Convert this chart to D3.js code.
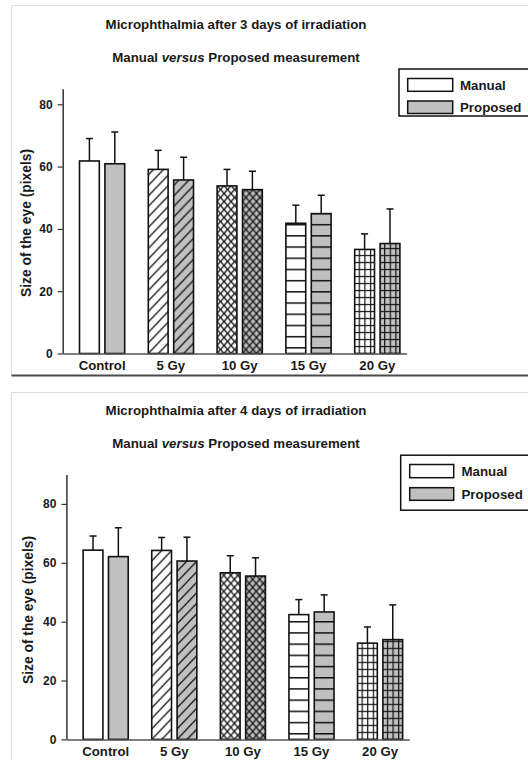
<!DOCTYPE html>
<html>
<head>
<meta charset="utf-8">
<script src="https://cdn.jsdelivr.net/npm/d3@7"></script>
<style>
  html, body { margin: 0; padding: 0; background: #fff; }
  svg { display: block; }
  text { font-family: "Liberation Sans", Arial, sans-serif; font-weight: bold; fill: #1a1a1a; }
</style>
</head>
<body>
<svg id="chart" width="528" height="760"></svg>
<script>
// ---- data ----
const categories = ["Control", "5 Gy", "10 Gy", "15 Gy", "20 Gy"];
const seriesNames = ["Manual", "Proposed"];
const yTicks = [0, 20, 40, 60, 80];
const yAxisLabel = "Size of the eye (pixels)";

// 3 days after irradiation: means and upper error (SD)
const day3Manual     = [61.8, 59.1, 53.8, 41.8, 33.4];
const day3ManualSD   = [7.2, 6.1, 5.3, 5.8, 5.0];
const day3Proposed   = [60.9, 55.7, 52.6, 44.9, 35.3];
const day3ProposedSD = [10.2, 7.3, 5.9, 5.9, 11.1];

// 4 days after irradiation
const day4Manual     = [64.3, 64.2, 56.6, 42.4, 32.7];
const day4ManualSD   = [4.8, 4.4, 5.8, 5.1, 5.5];
const day4Proposed   = [62.1, 60.6, 55.5, 43.3, 33.9];
const day4ProposedSD = [9.8, 8.1, 6.2, 5.8, 11.8];

// fill hatch used for each dose group
const hatchByCategory = ["none", "diagonal", "crosshatch", "horizontal", "grid"];
const seriesFill = { Manual: "#ffffff", Proposed: "#c0c0c0" };

// ---- layout of the two panels ----
const panels = [
  {
    key: "d3", title: "Microphthalmia after 3 days of irradiation",
    manual: day3Manual, manualSD: day3ManualSD, proposed: day3Proposed, proposedSD: day3ProposedSD,
    frameTop: 5.5, frameBottom: 375.5, darkBottom: true,
    axisX0: 62.7, axisX1: 406.7, yBase: 353.5, yTop: 88.7, yMax: 85,
    titleY: [28.8, 62], yLabelPos: [26.3, 223],
    legend: { x: 399, y: 69, h: 47, swX: 407.7, swW: 45, rows: [[78.5, 12.8], [101, 12.5]], textX: 460 }
  },
  {
    key: "d4", title: "Microphthalmia after 4 days of irradiation",
    manual: day4Manual, manualSD: day4ManualSD, proposed: day4Proposed, proposedSD: day4ProposedSD,
    frameTop: 392.5, frameBottom: 762, darkBottom: false,
    axisX0: 66.4, axisX1: 409.4, yBase: 739.4, yTop: 474.5, yMax: 90,
    titleY: [414.7, 448], yLabelPos: [28.6, 610],
    legend: { x: 400.7, y: 455.2, h: 55, swX: 409.7, swW: 44, rows: [[464.5, 13.2], [487.7, 12.6]], textX: 461.5 }
  }
];

const svg = d3.select("#chart");
const defs = svg.append("defs");
const ink = "#111";

// hatch pattern anchored to a bar's left edge and the baseline
function makePattern(id, kind, bg, ox, oy) {
  const specs = {
    diagonal:   { w: 10, h: 10.5 },
    crosshatch: { w: 7, h: 8 },
    horizontal: { w: 10, h: 11.2 },
    grid:       { w: 5.6, h: 7 }
  };
  const s = specs[kind];
  const p = defs.append("pattern")
    .attr("id", id)
    .attr("patternUnits", "userSpaceOnUse")
    .attr("x", ox).attr("y", oy)
    .attr("width", s.w).attr("height", s.h);
  p.append("rect").attr("width", s.w).attr("height", s.h).attr("fill", bg);
  if (kind === "diagonal") {
    p.append("path")
      .attr("d", `M0,${s.h} L${s.w},0 M${-s.w / 2},${s.h / 2} L${s.w / 2},${-s.h / 2} M${s.w / 2},${s.h * 1.5} L${s.w * 1.5},${s.h / 2}`)
      .attr("stroke", ink).attr("stroke-width", 1.3);
  } else if (kind === "crosshatch") {
    p.append("path")
      .attr("d", `M0,0 L${s.w},${s.h} M${s.w},0 L0,${s.h}`)
      .attr("stroke", ink).attr("stroke-width", 1.3);
  } else if (kind === "horizontal") {
    p.append("rect").attr("x", 0).attr("y", 0).attr("width", s.w).attr("height", 1.5).attr("fill", ink);
  } else if (kind === "grid") {
    p.append("rect").attr("x", 0).attr("y", 0).attr("width", s.w).attr("height", 1.2).attr("fill", ink);
    p.append("rect").attr("x", 0).attr("y", 0).attr("width", 1.2).attr("height", s.h).attr("fill", ink);
  }
  return `url(#${id})`;
}

panels.forEach(cfg => {
  const g = svg.append("g").attr("class", "panel-" + cfg.key);

  // panel frame
  g.append("path")
    .attr("d", `M528,${cfg.frameTop} H11.5 V${cfg.frameBottom}`)
    .attr("fill", "none").attr("stroke", "#dcdcdc").attr("stroke-width", 1);
  if (cfg.darkBottom) {
    g.append("line")
      .attr("x1", 11.5).attr("x2", 528).attr("y1", cfg.frameBottom).attr("y2", cfg.frameBottom)
      .attr("stroke", "#4a4a4a").attr("stroke-width", 2);
  }

  // titles
  g.append("text").attr("x", 236).attr("y", cfg.titleY[0]).attr("text-anchor", "middle")
    .style("font-size", "13.3px").text(cfg.title);
  const t2 = g.append("text").attr("x", 236).attr("y", cfg.titleY[1]).attr("text-anchor", "middle")
    .style("font-size", "13.3px");
  t2.append("tspan").text("Manual ");
  t2.append("tspan").style("font-style", "italic").text("versus");
  t2.append("tspan").text(" Proposed measurement");

  // scales
  const y = d3.scaleLinear().domain([0, cfg.yMax]).range([cfg.yBase, cfg.yTop]);
  const x = d3.scaleBand().domain(categories)
    .range([cfg.axisX0, cfg.axisX1])
    .paddingInner(0.343).paddingOuter(0.1715).align(0.712);
  const xs = d3.scaleBand().domain(seriesNames).range([0, x.bandwidth()]).paddingInner(0.22);

  // bars
  const rows = [];
  categories.forEach((c, i) => {
    rows.push({ cat: c, i, series: "Manual", v: cfg.manual[i], sd: cfg.manualSD[i] });
    rows.push({ cat: c, i, series: "Proposed", v: cfg.proposed[i], sd: cfg.proposedSD[i] });
  });

  rows.forEach(d => {
    const bx = x(d.cat) + xs(d.series);
    const kind = hatchByCategory[d.i];
    const bg = seriesFill[d.series];
    let fill = bg;
    if (kind !== "none") {
      const offs = { diagonal: [0, 0], crosshatch: [0, 0], horizontal: [0, -6.4], grid: [4, -0.6] }[kind];
      fill = makePattern(`hatch-${cfg.key}-${d.i}-${d.series}`, kind, bg, bx + offs[0], cfg.yBase + offs[1]);
    }
    d.bx = bx;
    d.fill = fill;
  });

  g.append("g").selectAll("rect").data(rows).join("rect")
    .attr("x", d => d.bx)
    .attr("y", d => y(d.v))
    .attr("width", xs.bandwidth())
    .attr("height", d => y(0) - y(d.v))
    .attr("fill", d => d.fill)
    .attr("stroke", ink).attr("stroke-width", 1.6);

  // error bars (upper only)
  const eb = g.append("g").attr("stroke", ink).attr("stroke-width", 1.5);
  eb.selectAll("line.stem").data(rows).join("line").attr("class", "stem")
    .attr("x1", d => d.bx + xs.bandwidth() / 2).attr("x2", d => d.bx + xs.bandwidth() / 2)
    .attr("y1", d => y(d.v)).attr("y2", d => y(d.v + d.sd));
  eb.selectAll("line.cap").data(rows).join("line").attr("class", "cap")
    .attr("x1", d => d.bx + xs.bandwidth() / 2 - 3.5).attr("x2", d => d.bx + xs.bandwidth() / 2 + 3.5)
    .attr("y1", d => y(d.v + d.sd)).attr("y2", d => y(d.v + d.sd));

  // y axis
  const ya = g.append("g").attr("transform", `translate(${cfg.axisX0},0)`)
    .call(d3.axisLeft(y).tickValues(yTicks).tickSize(5).tickSizeOuter(0).tickPadding(5));
  ya.select(".domain").attr("stroke", "#333").attr("stroke-width", 1.5);
  ya.selectAll(".tick line").attr("stroke", "#333").attr("stroke-width", 1.2);
  ya.selectAll(".tick text").style("font-size", "12px").attr("fill", "#1a1a1a");

  // x axis
  const xa = g.append("g").attr("transform", `translate(0,${cfg.yBase})`)
    .call(d3.axisBottom(x).tickSize(0).tickSizeOuter(0).tickPadding(7.5));
  xa.select(".domain").attr("stroke", "#555").attr("stroke-width", 1.5);
  xa.selectAll(".tick text").style("font-size", "13.2px").attr("fill", "#1a1a1a");
  ya.attr("font-family", null);
  xa.attr("font-family", null);

  // y axis title
  g.append("text")
    .attr("transform", `translate(${cfg.yLabelPos[0]},${cfg.yLabelPos[1]}) rotate(-90)`)
    .attr("text-anchor", "middle").attr("dy", "0.35em")
    .style("font-size", "13.8px").text(yAxisLabel);

  // legend
  const L = cfg.legend;
  const lg = g.append("g");
  lg.append("rect").attr("x", L.x).attr("y", L.y).attr("width", 140).attr("height", L.h)
    .attr("fill", "#fff").attr("stroke", ink).attr("stroke-width", 1.5);
  seriesNames.forEach((s, k) => {
    const [ry, rh] = L.rows[k];
    lg.append("rect").attr("x", L.swX).attr("y", ry).attr("width", L.swW).attr("height", rh)
      .attr("fill", seriesFill[s]).attr("stroke", ink).attr("stroke-width", 1.5);
    lg.append("text").attr("x", L.textX).attr("y", ry + rh / 2).attr("dy", "0.36em")
      .style("font-size", "13.3px").text(s);
  });
});
</script>
</body>
</html>
